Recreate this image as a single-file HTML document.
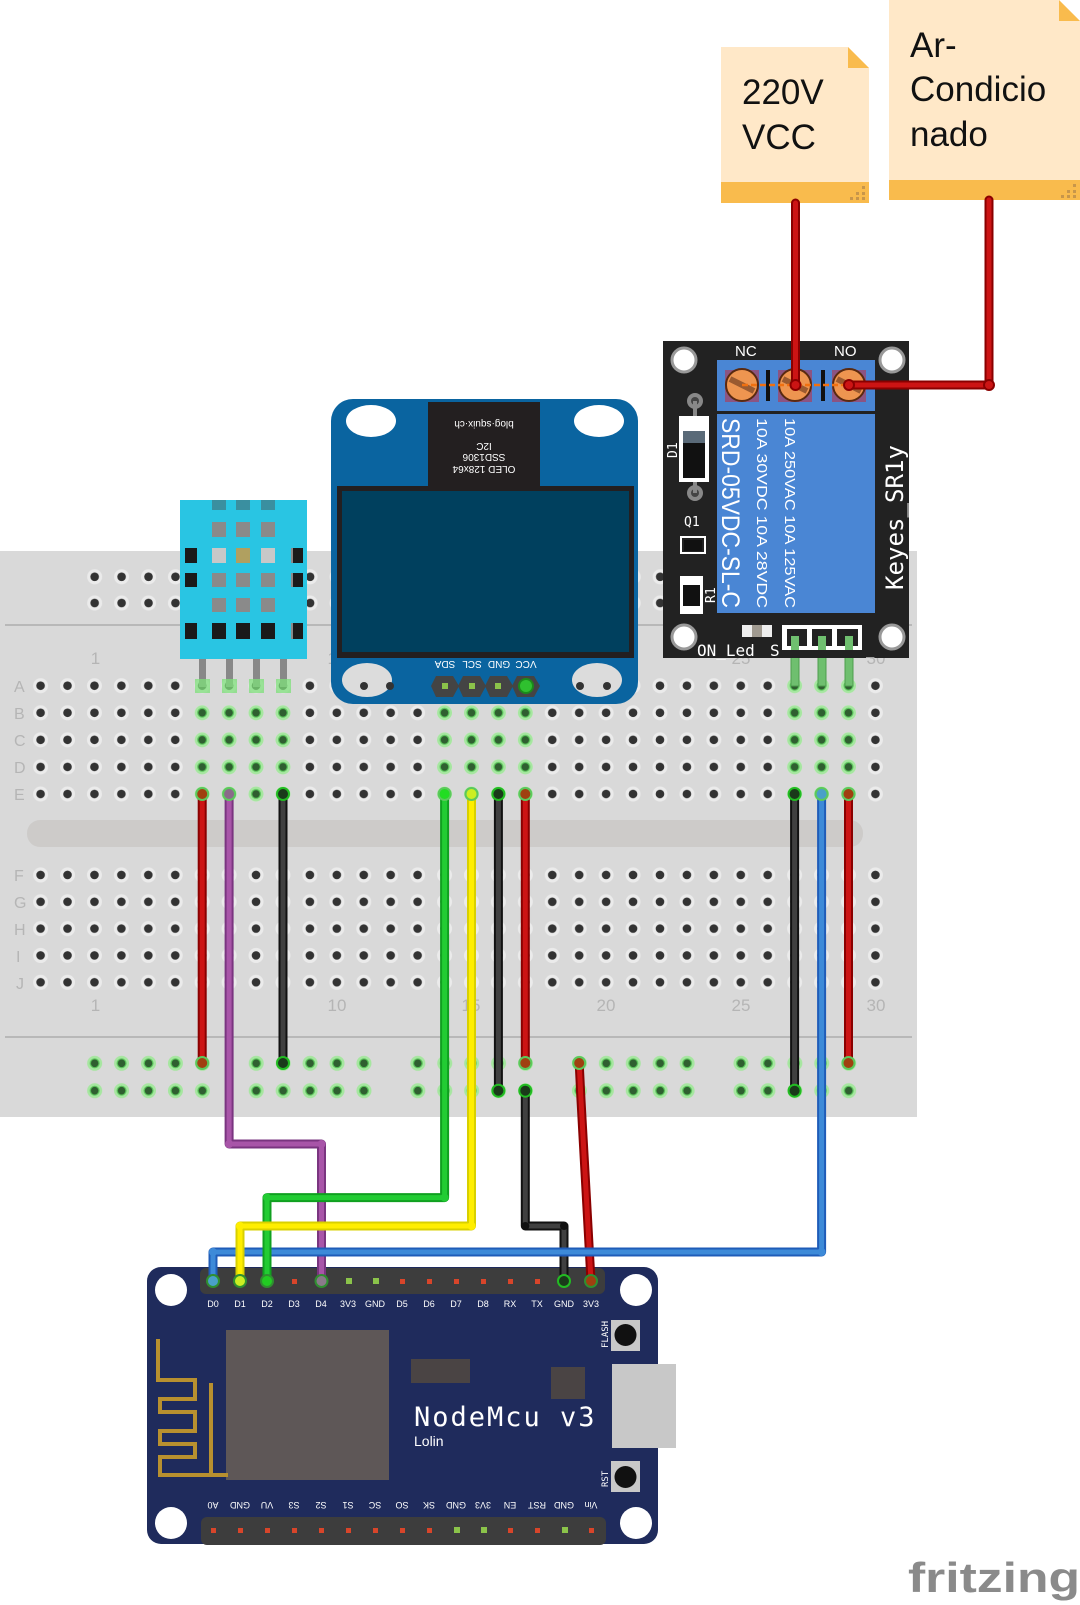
<!DOCTYPE html>
<html><head><meta charset="utf-8"><style>
html,body{margin:0;padding:0;background:#fff;}
svg{display:block;}
text{font-family:"Liberation Sans",sans-serif;}
.m{font-family:"DejaVu Sans Mono","Liberation Mono",monospace;}
</style></head><body>
<svg width="1080" height="1605" viewBox="0 0 1080 1605" xmlns="http://www.w3.org/2000/svg">
<defs>
<pattern id="h1" patternUnits="userSpaceOnUse" x="27.13" y="672.2" width="26.93" height="27.07">
<circle cx="13.465" cy="13.5" r="7.5" fill="#ebebeb"/><circle cx="13.465" cy="13.5" r="4.3" fill="#333"/></pattern>
<pattern id="h2" patternUnits="userSpaceOnUse" x="27.13" y="861.6" width="26.93" height="26.83">
<circle cx="13.465" cy="13.4" r="7.5" fill="#ebebeb"/><circle cx="13.465" cy="13.4" r="4.3" fill="#333"/></pattern>
<pattern id="g1" patternUnits="userSpaceOnUse" x="27.13" y="672.2" width="26.93" height="27.07">
<circle cx="13.465" cy="13.5" r="7.5" fill="#a6e6a0"/><circle cx="13.465" cy="13.5" r="5" fill="#5cc85c"/><circle cx="13.465" cy="13.5" r="3.8" fill="#2f5f30"/></pattern>
<pattern id="tr" patternUnits="userSpaceOnUse" x="81.2" y="563.7" width="26.93" height="26.2">
<circle cx="13.465" cy="13.1" r="7.5" fill="#ebebeb"/><circle cx="13.465" cy="13.1" r="4.3" fill="#333"/></pattern>
<pattern id="br" patternUnits="userSpaceOnUse" x="81.2" y="1049.6" width="26.93" height="27.4">
<circle cx="13.465" cy="13.7" r="7.5" fill="#a6e6a0"/><circle cx="13.465" cy="13.7" r="5" fill="#5cc85c"/><circle cx="13.465" cy="13.7" r="3.8" fill="#2f5f30"/></pattern>
</defs>

<!-- Breadboard -->
<rect x="0" y="551" width="917" height="566" fill="#d9d9d9"/>
<line x1="5" y1="625" x2="912" y2="625" stroke="#b8b8b8" stroke-width="2"/>
<line x1="5" y1="1037" x2="912" y2="1037" stroke="#b8b8b8" stroke-width="2"/>
<rect x="27" y="820" width="836" height="27" rx="13" fill="#cdcbc9"/>
<!-- top rails -->
<g fill="url(#tr)">
<rect x="81.2" y="563.7" width="134.6" height="52.4"/>
<rect x="242.8" y="563.7" width="134.6" height="52.4"/>
<rect x="404.4" y="563.7" width="134.6" height="52.4"/>
<rect x="566" y="563.7" width="134.6" height="52.4"/>
<rect x="727.6" y="563.7" width="134.6" height="52.4"/>
</g>
<!-- bottom rails -->
<g fill="url(#br)">
<rect x="81.2" y="1049.6" width="134.6" height="54.8"/>
<rect x="242.8" y="1049.6" width="134.6" height="54.8"/>
<rect x="404.4" y="1049.6" width="134.6" height="54.8"/>
<rect x="566" y="1049.6" width="134.6" height="54.8"/>
<rect x="727.6" y="1049.6" width="134.6" height="54.8"/>
</g>
<rect x="27.13" y="672.2" width="861.8" height="135.35" fill="url(#h1)"/>
<rect x="27.13" y="861.6" width="861.8" height="134.15" fill="url(#h2)"/>
<!-- green groups -->
<rect x="188.7" y="699.27" width="107.72" height="108.28" fill="url(#g1)"/>
<rect x="431.1" y="699.27" width="107.72" height="108.28" fill="url(#g1)"/>
<rect x="781.1" y="672.2" width="80.8" height="135.35" fill="url(#g1)"/>
<!-- row/col labels -->
<g fill="#b5b5b5" font-size="16">
<text x="14" y="692">A</text><text x="14" y="719">B</text><text x="14" y="746">C</text><text x="14" y="773">D</text><text x="14" y="800">E</text>
<text x="14" y="881">F</text><text x="14" y="908">G</text><text x="14" y="935">H</text><text x="16" y="962">I</text><text x="16" y="989">J</text>
</g>
<g fill="#b5b5b5" font-size="17" text-anchor="middle">
<text x="95.5" y="664">1</text><text x="337" y="664">10</text><text x="606" y="664">20</text><text x="741" y="664">25</text><text x="876" y="664">30</text>
<text x="95.5" y="1011">1</text><text x="337" y="1011">10</text><text x="471" y="1011">15</text><text x="606" y="1011">20</text><text x="741" y="1011">25</text><text x="876" y="1011">30</text>
</g>

<!-- DHT -->
<g fill="#888">
<rect x="199" y="655" width="7" height="32"/><rect x="226" y="655" width="7" height="32"/><rect x="253" y="655" width="7" height="32"/><rect x="280" y="655" width="7" height="32"/>
</g>
<g fill="#7ee07a" opacity="0.75">
<rect x="195" y="679" width="15" height="14"/><rect x="222" y="679" width="15" height="14"/><rect x="249" y="679" width="15" height="14"/><rect x="276" y="679" width="15" height="14"/>
</g>
<rect x="180" y="500" width="127" height="159" fill="#29c5e3"/>
<g fill="#3a8fa0"><rect x="212" y="500" width="14" height="10"/><rect x="236" y="500" width="14" height="10"/><rect x="261" y="500" width="14" height="10"/></g>
<g fill="#8a8a8a">
<rect x="212" y="522" width="14" height="15"/><rect x="236" y="522" width="14" height="15"/><rect x="261" y="522" width="14" height="15"/>
<rect x="212" y="573" width="14" height="14"/><rect x="236" y="573" width="14" height="14"/><rect x="261" y="573" width="14" height="14"/>
<rect x="212" y="598" width="14" height="14"/><rect x="236" y="598" width="14" height="14"/><rect x="261" y="598" width="14" height="14"/>
<rect x="185" y="548" width="12" height="15"/><rect x="291" y="548" width="12" height="15"/>
<rect x="185" y="573" width="12" height="14"/><rect x="291" y="573" width="12" height="14"/>
<rect x="185" y="623" width="12" height="16"/><rect x="291" y="623" width="12" height="16"/>
</g>
<g fill="#c8c8c8"><rect x="212" y="548" width="14" height="15"/><rect x="261" y="548" width="14" height="15"/></g>
<rect x="236" y="548" width="14" height="15" fill="#b0a060"/>
<g fill="#1a1a1a">
<rect x="185" y="548" width="12" height="15"/><rect x="293" y="548" width="10" height="15"/>
<rect x="185" y="573" width="12" height="14"/><rect x="293" y="573" width="10" height="14"/>
<rect x="185" y="623" width="12" height="16"/><rect x="293" y="623" width="10" height="16"/>
<rect x="212" y="623" width="14" height="16"/><rect x="236" y="623" width="14" height="16"/><rect x="261" y="623" width="14" height="16"/>
</g>

<!-- OLED -->
<rect x="331" y="399" width="307" height="305" rx="22" fill="#0a64a0"/>
<rect x="428" y="402" width="112" height="86" fill="#231f20"/>
<rect x="337" y="486" width="297" height="172" fill="#231f20"/>
<rect x="342" y="491" width="287" height="161" fill="#00405e"/>
<ellipse cx="371" cy="421" rx="25" ry="16" fill="#fff"/>
<ellipse cx="599" cy="421" rx="25" ry="16" fill="#fff"/>
<ellipse cx="367" cy="680" rx="25" ry="17" fill="#dcdcdc"/>
<ellipse cx="597" cy="680" rx="25" ry="17" fill="#dcdcdc"/>
<g fill="#333"><circle cx="364" cy="686" r="4"/><circle cx="390" cy="686" r="4"/><circle cx="580" cy="686" r="4"/><circle cx="607" cy="686" r="4"/></g>
<g fill="#fff" font-size="10" class="m" text-anchor="middle">
<text transform="translate(484,421) rotate(180)">blog·squix·ch</text>
<text transform="translate(484,443) rotate(180)">I2C</text>
<text transform="translate(484,454) rotate(180)">SSD1306</text>
<text transform="translate(484,466) rotate(180)">OLED 128x64</text>
<text transform="translate(445,661) rotate(180)">SDA</text>
<text transform="translate(472,661) rotate(180)">SCL</text>
<text transform="translate(499,661) rotate(180)">GND</text>
<text transform="translate(526,661) rotate(180)">VCC</text>
</g>
<g fill="#444">
<polygon points="436,676 453,676 459,686 453,697 436,697 431,686"/>
<polygon points="463,676 480,676 486,686 480,697 463,697 458,686"/>
<polygon points="490,676 507,676 513,686 507,697 490,697 485,686"/>
<polygon points="517,676 534,676 540,686 534,697 517,697 512,686"/>
</g>
<g fill="#8bc34a"><rect x="442" y="683" width="6" height="6"/><rect x="469" y="683" width="6" height="6"/><rect x="495" y="683" width="6" height="6"/></g>
<circle cx="526" cy="686" r="7" fill="#2fc02f" stroke="#1b8a1b" stroke-width="2"/>

<!-- Relay -->
<g fill="#6fbf6f" stroke="#4e9e4e" stroke-width="1">
<rect x="791" y="630" width="8" height="56"/><rect x="818" y="630" width="8" height="56"/><rect x="845" y="630" width="8" height="56"/>
</g>
<rect x="663" y="341" width="246" height="317" fill="#222"/>
<g fill="#fff" stroke="#999" stroke-width="3">
<circle cx="684" cy="360" r="12"/><circle cx="892" cy="360" r="12"/><circle cx="684" cy="637" r="12"/><circle cx="892" cy="637" r="12"/>
</g>
<rect x="717" y="360" width="158" height="51" fill="#4a86d4"/>
<g fill="#a84060" opacity="0.7"><rect x="725" y="370" width="34" height="32"/><rect x="778" y="370" width="34" height="32"/><rect x="832" y="370" width="34" height="32"/></g>
<g fill="#ee9550" stroke="#5a2a10" stroke-width="2">
<circle cx="742" cy="385" r="16"/><circle cx="795" cy="385" r="16"/><circle cx="849" cy="385" r="16"/>
</g>
<g stroke="#9a5a30" stroke-width="6"><line x1="730" y1="379" x2="754" y2="391"/><line x1="783" y1="379" x2="807" y2="391"/><line x1="837" y1="379" x2="861" y2="391"/></g>
<g fill="#111"><rect x="766" y="370" width="4" height="31"/><rect x="821" y="370" width="4" height="31"/></g>
<line x1="742" y1="385" x2="849" y2="385" stroke="#f07010" stroke-width="2.5" stroke-dasharray="6,3"/>
<g fill="#fff" font-size="15"><text x="735" y="356">NC</text><text x="834" y="356">NO</text></g>
<rect x="717" y="414" width="158" height="199" fill="#4a86d4"/>
<g fill="#fff" class="m">
<text transform="translate(722,418) rotate(90)" font-size="25" textLength="190" lengthAdjust="spacingAndGlyphs">SRD-05VDC-SL-C</text>
<text transform="translate(757,418) rotate(90)" font-size="15" textLength="190" lengthAdjust="spacingAndGlyphs">10A 30VDC 10A 28VDC</text>
<text transform="translate(785,418) rotate(90)" font-size="15" textLength="190" lengthAdjust="spacingAndGlyphs">10A 250VAC 10A 125VAC</text>
</g>
<text transform="translate(903,590) rotate(-90)" fill="#fff" font-size="24" class="m" textLength="145" lengthAdjust="spacingAndGlyphs">Keyes_SR1y</text>
<circle cx="695" cy="401" r="8" fill="#888"/><circle cx="695" cy="401" r="4" fill="#444"/>
<circle cx="695" cy="493" r="8" fill="#888"/><circle cx="695" cy="493" r="4" fill="#444"/>
<line x1="695" y1="401" x2="695" y2="493" stroke="#888" stroke-width="4"/>
<rect x="679" y="416" width="30" height="66" fill="#fff"/>
<rect x="683" y="431" width="22" height="12" fill="#5a6a78"/>
<rect x="683" y="443" width="22" height="35" fill="#111"/>
<text transform="translate(677,458) rotate(-90)" fill="#fff" font-size="13" class="m">D1</text>
<text x="684" y="526" fill="#fff" font-size="13" class="m">Q1</text>
<rect x="681" y="537" width="24" height="16" fill="none" stroke="#fff" stroke-width="2"/>
<rect x="684" y="540" width="18" height="11" fill="#111"/>
<rect x="680" y="576" width="23" height="38" fill="#fff"/>
<rect x="683" y="585" width="17" height="21" fill="#111"/>
<text transform="translate(715,603) rotate(-90)" fill="#fff" font-size="13" class="m">R1</text>
<rect x="742" y="625" width="30" height="12" fill="#eee"/><rect x="752" y="625" width="10" height="12" fill="#a09a90"/>
<text x="697" y="656" fill="#fff" font-size="16" class="m">ON_Led</text>
<text x="770" y="656" fill="#fff" font-size="16" class="m">S</text>
<text x="866" y="654" fill="#fff" font-size="14" class="m">_</text>
<rect x="782" y="625" width="80" height="25" fill="#fff"/>
<g fill="#222"><rect x="787" y="629" width="20" height="17"/><rect x="812" y="629" width="20" height="17"/><rect x="837" y="629" width="21" height="17"/></g>
<g fill="#6fbf6f"><rect x="791" y="636" width="8" height="14"/><rect x="818" y="636" width="8" height="14"/><rect x="845" y="636" width="8" height="14"/></g>

<!-- Notes -->
<polygon points="721,47 848,47 869,68 869,203 721,203" fill="#ffe8c8"/>
<polygon points="848,47 869,68 848,68" fill="#f9bb4d"/>
<rect x="721" y="182" width="148" height="21" fill="#f9bb4d"/>
<g fill="#c8964a"><rect x="862" y="186" width="3" height="3"/><rect x="856" y="192" width="3" height="3"/><rect x="862" y="192" width="3" height="3"/><rect x="850" y="197" width="3" height="3"/><rect x="856" y="197" width="3" height="3"/><rect x="862" y="197" width="3" height="3"/></g>
<text x="742" y="104" font-size="35" fill="#111">220V</text>
<text x="742" y="149" font-size="35" fill="#111">VCC</text>
<polygon points="889,0 1059,0 1080,21 1080,200 889,200" fill="#ffe8c8"/>
<polygon points="1059,0 1080,21 1059,21" fill="#f9bb4d"/>
<rect x="889" y="180" width="191" height="20" fill="#f9bb4d"/>
<g fill="#c8964a"><rect x="1073" y="184" width="3" height="3"/><rect x="1067" y="190" width="3" height="3"/><rect x="1073" y="190" width="3" height="3"/><rect x="1061" y="195" width="3" height="3"/><rect x="1067" y="195" width="3" height="3"/><rect x="1073" y="195" width="3" height="3"/></g>
<text x="910" y="57" font-size="35" fill="#111">Ar-</text>
<text x="910" y="101" font-size="35" fill="#111">Condicio</text>
<text x="910" y="146" font-size="35" fill="#111">nado</text>

<!-- NodeMCU -->
<rect x="147" y="1267" width="511" height="277" rx="14" fill="#1f2b5c"/>
<g fill="#fff"><circle cx="171" cy="1290" r="16"/><circle cx="636" cy="1290" r="16"/><circle cx="171" cy="1523" r="16"/><circle cx="636" cy="1523" r="16"/></g>
<rect x="226" y="1330" width="163" height="150" fill="#5e5757"/>
<rect x="411" y="1359" width="59" height="24" fill="#4a4444"/>
<rect x="551" y="1367" width="34" height="32" fill="#4a4444"/>
<rect x="612" y="1364" width="64" height="84" fill="#c8c8c8"/>
<rect x="611" y="1320" width="29" height="31" fill="#c8c8c8"/><circle cx="625.5" cy="1335" r="11" fill="#111"/>
<rect x="611" y="1461" width="29" height="31" fill="#c8c8c8"/><circle cx="625.5" cy="1477" r="11" fill="#111"/>
<text transform="translate(608,1348) rotate(-90)" fill="#fff" font-size="9" class="m">FLASH</text>
<text transform="translate(608,1487) rotate(-90)" fill="#fff" font-size="9" class="m">RST</text>
<polyline points="158,1339 158,1380 195,1380 195,1399 160,1399 160,1412 195,1412 195,1431 160,1431 160,1444 195,1444 195,1457 160,1457 160,1475 228,1475" fill="none" stroke="#b8902f" stroke-width="4"/>
<line x1="211" y1="1383" x2="211" y2="1475" stroke="#b8902f" stroke-width="4"/>
<text x="414" y="1426" fill="#fff" font-size="27" class="m" letter-spacing="2">NodeMcu v3</text>
<text x="414" y="1446" fill="#fff" font-size="14">Lolin</text>
<rect x="200" y="1268" width="405" height="26" rx="6" fill="#3d3d3d"/>
<rect x="201" y="1517" width="405" height="28" rx="6" fill="#3d3d3d"/>
<g fill="#d8452a">
<rect x="292" y="1279" width="5" height="5"/><rect x="373" y="1279" width="5" height="5"/><rect x="400" y="1279" width="5" height="5"/><rect x="427" y="1279" width="5" height="5"/><rect x="454" y="1279" width="5" height="5"/><rect x="481" y="1279" width="5" height="5"/><rect x="508" y="1279" width="5" height="5"/><rect x="535" y="1279" width="5" height="5"/>
<rect x="211" y="1528" width="5" height="5"/><rect x="238" y="1528" width="5" height="5"/><rect x="265" y="1528" width="5" height="5"/><rect x="292" y="1528" width="5" height="5"/><rect x="319" y="1528" width="5" height="5"/><rect x="346" y="1528" width="5" height="5"/><rect x="373" y="1528" width="5" height="5"/><rect x="400" y="1528" width="5" height="5"/><rect x="427" y="1528" width="5" height="5"/><rect x="508" y="1528" width="5" height="5"/><rect x="535" y="1528" width="5" height="5"/><rect x="589" y="1528" width="5" height="5"/>
</g>
<g fill="#8bc34a">
<rect x="346" y="1278" width="6" height="6"/><rect x="373" y="1278" width="6" height="6"/>
<rect x="454" y="1527" width="6" height="6"/><rect x="481" y="1527" width="6" height="6"/><rect x="562" y="1527" width="6" height="6"/>
</g>
<rect x="346" y="1278" width="6" height="6" fill="#8bc34a"/>
<g fill="#fff" font-size="9" class="m" text-anchor="middle">
<text x="213" y="1307">D0</text><text x="240" y="1307">D1</text><text x="267" y="1307">D2</text><text x="294" y="1307">D3</text><text x="321" y="1307">D4</text><text x="348" y="1307">3V3</text><text x="375" y="1307">GND</text><text x="402" y="1307">D5</text><text x="429" y="1307">D6</text><text x="456" y="1307">D7</text><text x="483" y="1307">D8</text><text x="510" y="1307">RX</text><text x="537" y="1307">TX</text><text x="564" y="1307">GND</text><text x="591" y="1307">3V3</text>
<text transform="translate(213,1502) rotate(180)">A0</text><text transform="translate(240,1502) rotate(180)">GND</text><text transform="translate(267,1502) rotate(180)">VU</text><text transform="translate(294,1502) rotate(180)">S3</text><text transform="translate(321,1502) rotate(180)">S2</text><text transform="translate(348,1502) rotate(180)">S1</text><text transform="translate(375,1502) rotate(180)">SC</text><text transform="translate(402,1502) rotate(180)">SO</text><text transform="translate(429,1502) rotate(180)">SK</text><text transform="translate(456,1502) rotate(180)">GND</text><text transform="translate(483,1502) rotate(180)">3V3</text><text transform="translate(510,1502) rotate(180)">EN</text><text transform="translate(537,1502) rotate(180)">RST</text><text transform="translate(564,1502) rotate(180)">GND</text><text transform="translate(591,1502) rotate(180)">Vin</text>
</g>

<!-- Wires -->
<g fill="none" stroke-linecap="round" stroke-linejoin="round">
<g stroke="#8a0000" stroke-width="9">
<polyline points="795.5,203 795.5,385"/><polyline points="989,200 989,385 849,385"/>
<polyline points="202.2,794 202.2,1063"/><polyline points="525.3,794 525.3,1063"/><polyline points="848.5,794 848.5,1063"/>
<polyline points="579.2,1063 581,1100 591,1281"/>
</g>
<g stroke="#cc1414" stroke-width="5">
<polyline points="795.5,203 795.5,385"/><polyline points="989,200 989,385 849,385"/>
<polyline points="202.2,794 202.2,1063"/><polyline points="525.3,794 525.3,1063"/><polyline points="848.5,794 848.5,1063"/>
<polyline points="579.2,1063 581,1100 591,1281"/>
</g>
<g stroke="#111" stroke-width="9">
<polyline points="283,794 283,1063"/><polyline points="498.4,794 498.4,1090.7"/><polyline points="794.6,794 794.6,1090.7"/>
<polyline points="525.3,1090.7 525.3,1226 564,1226 564,1281"/>
</g>
<g stroke="#404040" stroke-width="5">
<polyline points="283,794 283,1063"/><polyline points="498.4,794 498.4,1090.7"/><polyline points="794.6,794 794.6,1090.7"/>
<polyline points="525.3,1090.7 525.3,1226 564,1226 564,1281"/>
</g>
<polyline points="229.1,794 229.1,1144 321.5,1144 321.5,1281" stroke="#7a3580" stroke-width="9"/>
<polyline points="229.1,794 229.1,1144 321.5,1144 321.5,1281" stroke="#a855a8" stroke-width="5"/>
<polyline points="821.6,794 821.6,1252 213,1252 213,1281" stroke="#1f5cb8" stroke-width="9"/>
<polyline points="821.6,794 821.6,1252 213,1252 213,1281" stroke="#3d8ad8" stroke-width="5"/>
<polyline points="444.6,794 444.6,1197.6 267,1197.6 267,1281" stroke="#10a020" stroke-width="9"/>
<polyline points="444.6,794 444.6,1197.6 267,1197.6 267,1281" stroke="#22cc33" stroke-width="5"/>
<polyline points="471.5,794 471.5,1226 240,1226 240,1281" stroke="#d8d000" stroke-width="9"/>
<polyline points="471.5,794 471.5,1226 240,1226 240,1281" stroke="#ffee00" stroke-width="5"/>
</g>
<!-- wire end dots -->
<g stroke-width="2">
<circle cx="795.5" cy="385" r="5" fill="#cc1414" stroke="#8a0000"/><circle cx="989" cy="385" r="5" fill="#cc1414" stroke="#8a0000"/><circle cx="849" cy="385" r="5" fill="#cc1414" stroke="#8a0000"/>
<circle cx="202.2" cy="794" r="6" fill="#a04010" stroke="#5cc85c"/><circle cx="202.2" cy="1063" r="6" fill="#a04010" stroke="#5cc85c"/>
<circle cx="525.3" cy="794" r="6" fill="#a04010" stroke="#5cc85c"/><circle cx="525.3" cy="1063" r="6" fill="#a04010" stroke="#5cc85c"/>
<circle cx="848.5" cy="794" r="6" fill="#a04010" stroke="#5cc85c"/><circle cx="848.5" cy="1063" r="6" fill="#a04010" stroke="#5cc85c"/>
<circle cx="579.2" cy="1063" r="6" fill="#a04010" stroke="#5cc85c"/><circle cx="591" cy="1281" r="6" fill="#a04010" stroke="#2f8f30"/>
<circle cx="283" cy="794" r="6" fill="#1a3a1a" stroke="#22bb22"/><circle cx="283" cy="1063" r="6" fill="#1a3a1a" stroke="#22bb22"/>
<circle cx="498.4" cy="794" r="6" fill="#1a3a1a" stroke="#22bb22"/><circle cx="498.4" cy="1090.7" r="6" fill="#1a3a1a" stroke="#22bb22"/>
<circle cx="794.6" cy="794" r="6" fill="#1a3a1a" stroke="#22bb22"/><circle cx="794.6" cy="1090.7" r="6" fill="#1a3a1a" stroke="#22bb22"/>
<circle cx="525.3" cy="1090.7" r="6" fill="#1a3a1a" stroke="#22bb22"/><circle cx="564" cy="1281" r="6" fill="#1a3a1a" stroke="#22bb22"/>
<circle cx="229.1" cy="794" r="6" fill="#8a6a8a" stroke="#5cc85c"/><circle cx="321.5" cy="1281" r="6" fill="#8a7a8a" stroke="#2f8f30"/>
<circle cx="821.6" cy="794" r="6" fill="#4aa0c8" stroke="#5cc85c"/><circle cx="213" cy="1281" r="6" fill="#4aa0c8" stroke="#2f8f30"/>
<circle cx="444.6" cy="794" r="6" fill="#22dd22" stroke="#5cc85c"/><circle cx="267" cy="1281" r="6" fill="#22cc22" stroke="#2f8f30"/>
<circle cx="471.5" cy="794" r="6" fill="#ccee22" stroke="#5cc85c"/><circle cx="240" cy="1281" r="6" fill="#ccee22" stroke="#2f8f30"/>
</g>
<g fill="#111"><circle cx="229.1" cy="1144" r="4" fill="#a855a8"/><circle cx="321.5" cy="1144" r="4" fill="#a855a8"/><circle cx="444.6" cy="1197.6" r="4" fill="#22cc33"/><circle cx="267" cy="1197.6" r="4" fill="#22cc33"/><circle cx="471.5" cy="1226" r="4" fill="#ffee00"/><circle cx="240" cy="1226" r="4" fill="#ffee00"/><circle cx="525.3" cy="1226" r="4"/><circle cx="564" cy="1226" r="4"/><circle cx="821.6" cy="1252" r="4" fill="#3d8ad8"/><circle cx="213" cy="1252" r="4" fill="#3d8ad8"/></g>

<!-- fritzing logo -->
<text x="908" y="1592" font-size="42" font-weight="bold" fill="#8a8a8a" textLength="172" lengthAdjust="spacingAndGlyphs">fritzing</text>
</svg>
</body></html>
